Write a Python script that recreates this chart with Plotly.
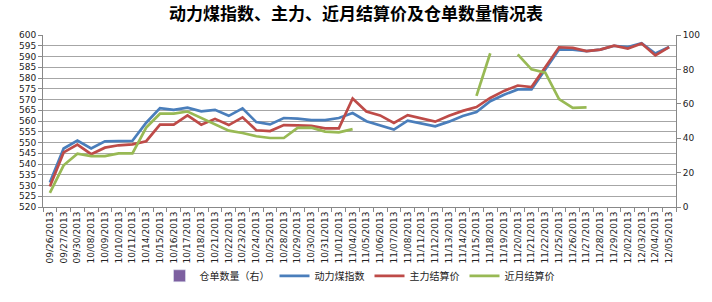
import plotly.graph_objects as go

dates = ["09/26/2013","09/27/2013","09/30/2013","10/08/2013","10/09/2013","10/10/2013","10/11/2013",
         "10/14/2013","10/15/2013","10/16/2013","10/17/2013","10/18/2013","10/21/2013","10/22/2013",
         "10/23/2013","10/24/2013","10/25/2013","10/28/2013","10/29/2013","10/30/2013","10/31/2013",
         "11/01/2013","11/04/2013","11/05/2013","11/06/2013","11/07/2013","11/08/2013","11/11/2013",
         "11/12/2013","11/13/2013","11/14/2013","11/15/2013","11/18/2013","11/19/2013","11/20/2013",
         "11/21/2013","11/22/2013","11/25/2013","11/26/2013","11/27/2013","11/28/2013","11/29/2013",
         "12/02/2013","12/03/2013","12/04/2013","12/05/2013"]

index_price = [531.4,547.2,550.9,547.2,550.5,550.8,550.8,559.2,566,565.2,
               566.2,564.5,565.2,562.4,565.9,559.5,558.4,561.4,561.1,560.4,
               560.4,561.4,563.7,559.9,558,556,560.2,558.7,557.5,559.7,
               562.3,564.2,569.2,572.2,574.7,574.7,583.7,593.3,593.2,592.5,
               593.2,595,594.4,596.2,591.4,594.4]

main_price = [529.5,545.4,549,544.6,547.6,548.7,549.1,550.6,558.3,558.3,
              562.6,558.3,561,558.1,561.7,555.7,555.3,558.1,558,557.7,
              556.6,556.6,570.5,564.4,562.6,559.1,562.7,561.2,559.7,562.4,
              564.7,566.5,570.7,574,576.5,575.8,585,594.3,594,592.5,
              593.2,595,593.7,596,590.5,594.4]

near_price = [526.6,539.4,544.8,543.7,543.7,544.9,544.9,556.9,563.4,563.4,
              564.4,561.4,558.5,555.5,554.4,552.9,552.1,552.1,556.8,556.9,
              555.1,554.7,556.2,None,None,None,None,None,None,None,
              None,571.7,591.5,None,591,584,582.5,570.2,566.1,566.3,
              None,None,None,None,None,None]

warrants = [None] * len(dates)

font_ticks = dict(family="DejaVu Sans", size=9, color="#222222")

fig = go.Figure()
fig.add_trace(go.Bar(x=dates, y=warrants, name="仓单数量（右）", marker_color="#7d60a0", yaxis="y2"))
fig.add_trace(go.Scatter(x=dates, y=index_price, name="动力煤指数", mode="lines",
                         line=dict(color="#4a7ebb", width=2.7)))
fig.add_trace(go.Scatter(x=dates, y=main_price, name="主力结算价", mode="lines",
                         line=dict(color="#be4b48", width=2.7)))
fig.add_trace(go.Scatter(x=dates, y=near_price, name="近月结算价", mode="lines",
                         line=dict(color="#98b954", width=2.7)))

fig.update_layout(
    width=712, height=302,
    margin=dict(l=43, r=26, t=35, b=88),
    paper_bgcolor="white", plot_bgcolor="white",
    title=dict(text="<b>动力煤指数、主力、近月结算价及仓单数量情况表</b>",
               x=0.5, xanchor="center", y=0.955, yanchor="middle",
               font=dict(family="Noto Sans CJK SC", size=17, color="#000000")),
    xaxis=dict(type="category", tickangle=-90, tickfont=font_ticks,
               showline=True, linecolor="#888888", ticks="outside", tickson="boundaries",
               ticklen=4, tickcolor="#888888", showgrid=False, range=[-0.5, 45.5]),
    yaxis=dict(range=[520, 600], dtick=5, tickfont=font_ticks,
               showline=True, linecolor="#888888", ticks="outside", ticklen=4, tickcolor="#888888",
               showgrid=True, gridcolor="#a6a6a6", gridwidth=1, zeroline=False),
    yaxis2=dict(range=[0, 100], dtick=20, overlaying="y", side="right", tickfont=font_ticks,
                showline=True, linecolor="#888888", ticks="outside", ticklen=4, tickcolor="#888888",
                showgrid=False, zeroline=False),
    legend=dict(orientation="h", x=0.5, xanchor="center", y=-0.40, yanchor="middle",
                font=dict(family="Noto Sans CJK SC", size=10, color="#222222"),
                itemwidth=30, bgcolor="rgba(0,0,0,0)"),
    showlegend=True,
)

fig.write_html("out.html")
